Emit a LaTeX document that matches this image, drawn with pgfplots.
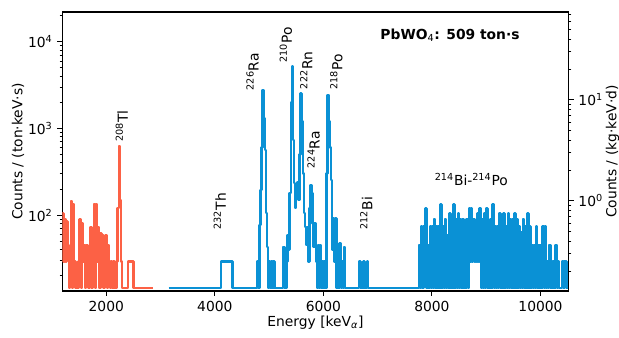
\documentclass[border=0pt]{standalone}
\usepackage{pgfplots}
\pgfplotsset{compat=1.18}
\usepackage{fontspec}
\setmainfont{DejaVu Sans}
\definecolor{cred}{RGB}{252,97,69}
\definecolor{cblue}{RGB}{10,145,213}
\pgfplotstableread[row sep=\\]{
x y\\
1190 104\\ 1210 29\\ 1230 90\\ 1250 29\\ 1270 84\\ 1290 45\\ 1310 14.5\\ 1330 29\\
1350 146\\ 1370 14.5\\ 1390 134\\ 1410 29\\ 1430 14.5\\ 1490 29\\ 1510 89\\ 1530 14.5\\
1550 80\\ 1570 29\\ 1590 45\\ 1610 14.5\\ 1630 45\\ 1650 29\\ 1670 14.5\\ 1690 29\\
1710 73\\ 1730 14.5\\ 1750 58\\ 1770 134\\ 1790 14.5\\ 1810 134\\ 1830 29\\ 1850 73\\
1870 14.5\\ 1890 61\\ 1910 29\\ 1930 58\\ 1950 14.5\\ 1970 45\\ 1990 58\\ 2010 14.5\\
2030 45\\ 2050 29\\ 2070 14.5\\ 2090 29\\ 2110 14.5\\ 2130 29\\ 2150 14.5\\ 2190 29\\
2210 120\\ 2230 630\\ 2250 150\\ 2270 29\\ 2290 14.5\\ 2400 29\\ 2500 14.5\\ 2870 14.5\\
}\redtab
\pgfplotstableread[row sep=\\]{
x y\\
3150 14.5\\ 4110 29\\ 4330 14.5\\ 4780 29\\ 4800 14.5\\ 4820 77\\ 4840 194\\ 4860 600\\
4880 2760\\ 4900 1300\\ 4920 560\\ 4940 105\\ 4960 43\\ 4980 14.5\\ 5000 29\\ 5020 14.5\\
5040 29\\ 5060 14.5\\ 5080 29\\ 5100 14.5\\ 5260 43\\ 5280 14.5\\ 5320 29\\ 5340 59\\
5360 40\\ 5380 180\\ 5400 2000\\ 5420 5150\\ 5440 730\\ 5460 233\\ 5480 120\\ 5500 180\\
5520 242\\ 5540 150\\ 5560 500\\ 5580 2530\\ 5600 1200\\ 5620 300\\ 5640 105\\ 5660 73\\
5680 45\\ 5700 73\\ 5720 29\\ 5740 120\\ 5760 222\\ 5780 180\\ 5800 80\\ 5820 43\\
5840 80\\ 5860 29\\ 5880 14.5\\ 5900 45\\ 5920 14.5\\ 5940 45\\ 5960 14.5\\ 5980 29\\
6000 14.5\\ 6020 29\\ 6040 14.5\\ 6060 300\\ 6080 2420\\ 6100 1200\\ 6120 600\\ 6140 253\\
6160 40\\ 6180 91\\ 6200 29\\ 6220 91\\ 6240 14.5\\ 6260 29\\ 6280 14.5\\ 6300 47\\
6320 14.5\\ 6340 29\\ 6360 14.5\\ 6380 43\\ 6400 14.5\\ 6660 29\\ 6680 14.5\\ 6740 29\\
6760 14.5\\ 6800 29\\ 6820 14.5\\
7760 45\\ 7780 14.5\\ 7800 74\\ 7820 14.5\\ 7840 74\\ 7860 29\\ 7880 119\\ 7900 14.5\\
7920 45\\ 7940 14.5\\ 7960 74\\ 7980 14.5\\ 8000 74\\ 8020 14.5\\ 8040 90\\ 8060 14.5\\
8080 74\\ 8100 14.5\\ 8120 74\\ 8140 14.5\\ 8160 133\\ 8180 14.5\\ 8200 74\\ 8220 14.5\\
8240 90\\ 8260 14.5\\ 8280 58\\ 8300 14.5\\ 8320 104\\ 8340 14.5\\ 8360 90\\ 8380 14.5\\
8400 133\\ 8420 14.5\\ 8440 90\\ 8460 14.5\\ 8480 104\\ 8500 14.5\\ 8520 90\\ 8540 14.5\\
8560 90\\ 8580 14.5\\ 8600 74\\ 8620 14.5\\ 8640 90\\ 8660 14.5\\ 8680 119\\ 8700 29\\
8720 119\\ 8740 29\\ 8760 90\\ 8780 29\\ 8800 74\\ 8820 29\\ 8840 104\\ 8860 29\\
8880 119\\ 8900 14.5\\ 8920 90\\ 8940 14.5\\ 8960 104\\ 8980 14.5\\ 9000 119\\ 9020 14.5\\
9040 74\\ 9060 14.5\\ 9080 90\\ 9100 14.5\\ 9120 133\\ 9140 14.5\\ 9160 74\\ 9180 14.5\\
9200 74\\ 9220 14.5\\ 9240 104\\ 9260 14.5\\ 9280 90\\ 9300 14.5\\ 9320 104\\ 9340 14.5\\
9360 74\\ 9380 14.5\\ 9400 104\\ 9420 14.5\\ 9440 90\\ 9460 14.5\\ 9480 90\\ 9500 14.5\\
9520 104\\ 9540 14.5\\ 9560 90\\ 9580 14.5\\ 9600 74\\ 9620 14.5\\ 9640 64\\ 9660 14.5\\
9680 90\\ 9700 14.5\\ 9720 74\\ 9740 14.5\\ 9760 104\\ 9780 14.5\\ 9800 74\\ 9820 14.5\\
9840 45\\ 9860 14.5\\ 9880 45\\ 9900 14.5\\ 9920 74\\ 9940 14.5\\ 9960 45\\ 9980 14.5\\
10000 45\\ 10020 14.5\\ 10040 74\\ 10060 14.5\\ 10080 74\\ 10100 14.5\\ 10120 29\\ 10140 14.5\\
10160 45\\ 10180 14.5\\ 10200 29\\ 10220 14.5\\ 10240 29\\ 10260 14.5\\ 10280 45\\ 10300 14.5\\
10320 29\\ 10340 14.5\\ 10400 29\\ 10420 14.5\\ 10440 29\\ 10480 14.5\\ 10490 14.5\\
}\bluetab
\begin{document}
\begin{tikzpicture}[font=\fontsize{10}{12}\selectfont]
\useasboundingbox (-44.86bp,-33.1bp) rectangle (400.8bp,209.54bp);
\begin{axis}[
  at={(0,0)}, anchor=south west,
  scale only axis, width=364.6bp, height=200.9bp,
  xmin=1190, xmax=10520,
  ymode=log, ymin=13.3, ymax=22000,
  scaled x ticks=false,
  xtick={2000,4000,6000,8000,10000},
  xticklabels={2000,4000,6000,8000,10000},
  ytick={100,1000,10000},
  yticklabels={10\textsuperscript{2},10\textsuperscript{3},10\textsuperscript{4}},
  minor ytick={20,30,40,50,60,70,80,90,200,300,400,500,600,700,800,900,2000,3000,4000,5000,6000,7000,8000,9000,20000},
  xtick pos=bottom, ytick pos=left,
  tick align=outside,
  major tick length=3.5pt, minor tick length=2pt,
  every major tick/.style={line width=0.8pt, black},
  every minor tick/.style={line width=0.6pt, black},
  axis line style={line width=0.8pt, black},
  xlabel={Energy [keV\textsubscript{\itshape α}]},
  xlabel style={at={(axis description cs:0.5,-0.1145)}, anchor=center},
  ylabel={Counts / (ton·keV·s)},
  ylabel style={at={(axis description cs:-0.0875,0.5)}, anchor=center},
]
\addplot[const plot, color=cred, line width=1.8pt, line join=round] table[x=x,y=y] {\redtab};
\addplot[const plot, color=cblue, line width=1.8pt, line join=round] table[x=x,y=y] {\bluetab};
\node[rotate=90] at (axis description cs:0.1173,0.5914) {\textsuperscript{208}Tl};
\node[rotate=90] at (axis description cs:0.3108,0.2857) {\textsuperscript{232}Th};
\node[rotate=90] at (axis description cs:0.3756,0.786) {\textsuperscript{226}Ra};
\node[rotate=90] at (axis description cs:0.4414,0.8817) {\textsuperscript{210}Po};
\node[rotate=90] at (axis description cs:0.4818,0.791) {\textsuperscript{222}Rn};
\node[rotate=90] at (axis description cs:0.4964,0.5065) {\textsuperscript{224}Ra};
\node[rotate=90] at (axis description cs:0.5411,0.786) {\textsuperscript{218}Po};
\node[rotate=90] at (axis description cs:0.6003,0.2785) {\textsuperscript{212}Bi};
\node at (axis description cs:0.8077,0.4014) {\textsuperscript{214}Bi-\textsuperscript{214}Po};
\node at (axis description cs:0.7656,0.9176) {\textbf{PbWO\textsubscript{\mdseries 4}: 509 ton·s}};
\end{axis}
\begin{axis}[
  name=ax2,
  at={(0,0)}, anchor=south west,
  scale only axis, width=364.6bp, height=200.9bp,
  xmin=1190, xmax=10520, hide x axis, scaled x ticks=false,
  ymode=log, ymin=0.128, ymax=74.3,
  axis y line*=right,
  ytick={1,10},
  yticklabels={10\textsuperscript{0},10\textsuperscript{1}},
  minor ytick={0.2,0.3,0.4,0.5,0.6,0.7,0.8,0.9,2,3,4,5,6,7,8,9,20,30,40,50,60,70},
  tick align=outside,
  major tick length=3.5pt, minor tick length=2pt,
  every major tick/.style={line width=0.8pt, black},
  every minor tick/.style={line width=0.6pt, black},
  axis line style={line width=0.8pt, black},
]
\addplot[draw=none] coordinates {(2000,1) (3000,2)};
\end{axis}
\node[rotate=90] at ([xshift=31.5bp]ax2.east) {Counts / (kg·keV·d)};
\end{tikzpicture}
\end{document}
